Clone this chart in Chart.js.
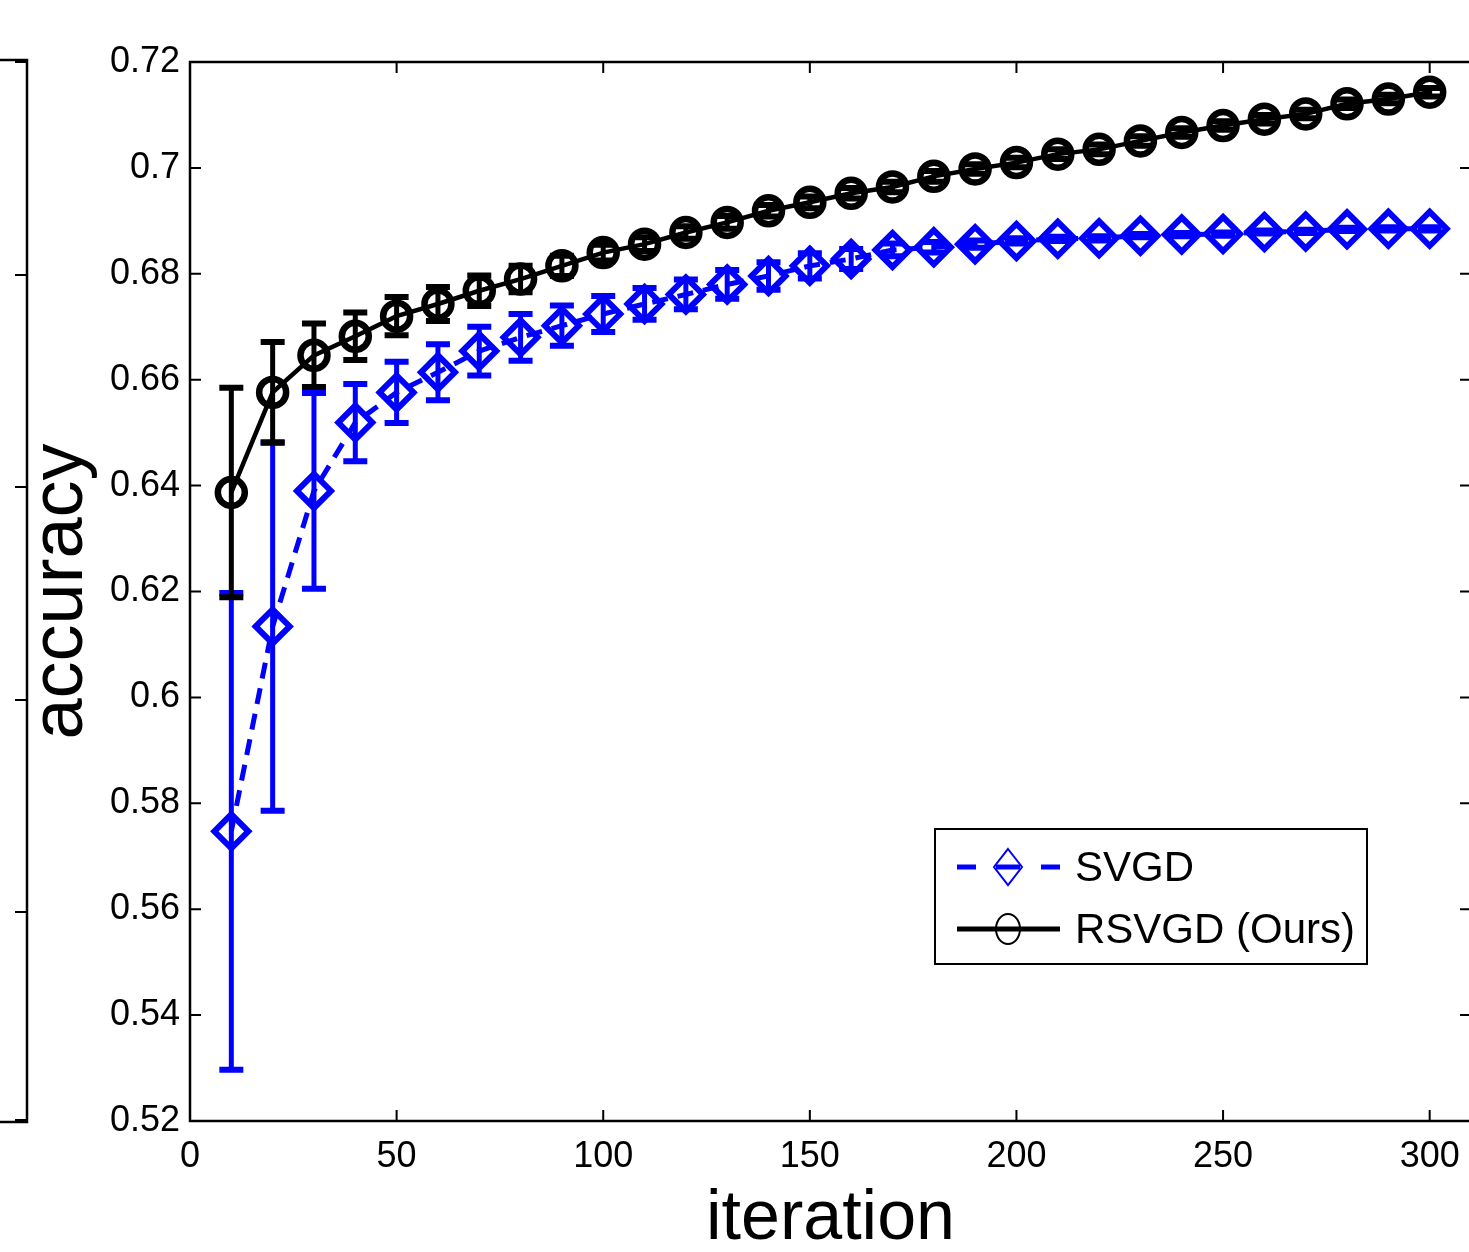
<!DOCTYPE html>
<html>
<head>
<meta charset="utf-8">
<script src="https://cdn.jsdelivr.net/npm/chart.js@4.4.1/dist/chart.umd.min.js"></script>
<style>
  html, body { margin: 0; padding: 0; background: #fff; overflow: hidden; }
  #wrap { width: 1494px; height: 1252px; }
</style>
</head>
<body>
<div id="wrap"><canvas id="acc-chart" width="1494" height="1252"></canvas></div>
<script>
// iteration number (x) and mean accuracy / error bar half-width per method
const iterations = [10, 20, 30, 40, 50, 60, 70, 80, 90, 100,
                    110, 120, 130, 140, 150, 160, 170, 180, 190, 200,
                    210, 220, 230, 240, 250, 260, 270, 280, 290, 300];

const svgdMean = [0.5747, 0.6134, 0.6390, 0.6519, 0.6576, 0.6614, 0.6654, 0.6680, 0.6702, 0.6724,
                  0.6743, 0.6761, 0.6780, 0.6796, 0.6815, 0.6828, 0.6845, 0.6850, 0.6856, 0.6862,
                  0.6866, 0.6867, 0.6872, 0.6874, 0.6875, 0.6879, 0.6880, 0.6884, 0.6885, 0.6885];
const svgdErr = [0.0450, 0.0348, 0.0185, 0.0073, 0.0058, 0.0053, 0.0046, 0.0044, 0.0038, 0.0034,
                 0.0030, 0.0028, 0.0027, 0.0026, 0.0024, 0.0019, 0.0012, 0.0010, 0.0007, 0.0005,
                 0.0004, 0.0004, 0.0003, 0.0003, 0.0003, 0.0003, 0.0003, 0.0003, 0.0003, 0.0003];

const rsvgdMean = [0.6387, 0.6576, 0.6646, 0.6682, 0.6720, 0.6743, 0.6768, 0.6790, 0.6815, 0.6840,
                   0.6856, 0.6878, 0.6897, 0.6919, 0.6935, 0.6952, 0.6964, 0.6984, 0.6998, 0.7010,
                   0.7026, 0.7035, 0.7051, 0.7067, 0.7080, 0.7092, 0.7102, 0.7121, 0.7130, 0.7143];
const rsvgdErr = [0.0198, 0.0095, 0.0060, 0.0045, 0.0036, 0.0032, 0.0029, 0.0025, 0.0019, 0.0015,
                  0.0013, 0.0012, 0.0012, 0.0011, 0.0011, 0.0010, 0.0010, 0.0010, 0.0009, 0.0009,
                  0.0009, 0.0009, 0.0009, 0.0008, 0.0008, 0.0008, 0.0008, 0.0008, 0.0008, 0.0008];

const xTicks = [0, 50, 100, 150, 200, 250, 300];
const yTicks = [0.52, 0.54, 0.56, 0.58, 0.6, 0.62, 0.64, 0.66, 0.68, 0.7, 0.72];
const seriesNames = ['SVGD', 'RSVGD (Ours)'];

const FONT = "'Liberation Sans', Arial, Helvetica, sans-serif";

// vertical error bars with caps, drawn right after each dataset
const errorBars = {
  id: 'errorBars',
  afterDatasetDraw(chart, args) {
    const ds = chart.data.datasets[args.index];
    if (!ds.errors) return;
    const xs = chart.scales.x, ys = chart.scales.y;
    const ctx = chart.ctx;
    ctx.save();
    ctx.strokeStyle = ds.borderColor;
    ds.data.forEach((p, i) => {
      const e = ds.errors[i];
      const px = xs.getPixelForValue(p.x);
      const top = ys.getPixelForValue(p.y + e);
      const bot = ys.getPixelForValue(p.y - e);
      ctx.lineWidth = 5;
      ctx.beginPath();
      ctx.moveTo(px, top);
      ctx.lineTo(px, bot);
      ctx.stroke();
      ctx.lineWidth = 6;
      ctx.beginPath();
      ctx.moveTo(px - 12, top); ctx.lineTo(px + 12, top);
      ctx.moveTo(px - 12, bot); ctx.lineTo(px + 12, bot);
      ctx.stroke();
    });
    ctx.restore();
  }
};

// matlab style box with ticks pointing inward, plus the edge of the neighbour panel
const boxAxes = {
  id: 'boxAxes',
  afterDraw(chart) {
    const {ctx, chartArea: a} = chart;
    const xs = chart.scales.x, ys = chart.scales.y;
    ctx.save();
    ctx.strokeStyle = '#000';
    ctx.lineWidth = 2.5;
    ctx.strokeRect(a.left, a.top, a.right - a.left, a.bottom - a.top);
    ctx.lineWidth = 2;
    ctx.beginPath();
    xTicks.forEach(v => {
      const px = xs.getPixelForValue(v);
      ctx.moveTo(px, a.bottom); ctx.lineTo(px, a.bottom - 11);
      ctx.moveTo(px, a.top); ctx.lineTo(px, a.top + 11);
    });
    yTicks.forEach(v => {
      const py = ys.getPixelForValue(v);
      ctx.moveTo(a.left, py); ctx.lineTo(a.left + 11, py);
      ctx.moveTo(a.right, py); ctx.lineTo(a.right - 11, py);
    });
    ctx.stroke();

    // right edge of the panel to the left
    ctx.lineWidth = 2.5;
    ctx.beginPath();
    ctx.moveTo(0, 60); ctx.lineTo(27, 60); ctx.lineTo(27, 1122); ctx.lineTo(0, 1122);
    ctx.stroke();
    ctx.lineWidth = 2;
    ctx.beginPath();
    [62, 275, 487, 700, 912, 1120].forEach(py => { ctx.moveTo(27, py); ctx.lineTo(15, py); });
    ctx.stroke();
    ctx.restore();
  }
};

// boxed legend in the lower right of the plot
const boxLegend = {
  id: 'boxLegend',
  afterDraw(chart) {
    const ctx = chart.ctx;
    const L = 935, T = 829, W = 432, H = 135;
    ctx.save();
    ctx.fillStyle = '#fff';
    ctx.fillRect(L, T, W, H);
    ctx.strokeStyle = '#000';
    ctx.lineWidth = 2;
    ctx.strokeRect(L, T, W, H);

    const rows = [867, 929];
    chart.data.datasets.forEach((ds, i) => {
      const cy = rows[i];
      ctx.strokeStyle = ds.borderColor;
      ctx.lineWidth = 5;
      ctx.beginPath();
      if (ds.borderDash) {
        ctx.moveTo(957, cy); ctx.lineTo(976, cy);
        ctx.moveTo(1041, cy); ctx.lineTo(1060, cy);
        ctx.moveTo(996, cy); ctx.lineTo(1020, cy);
      } else {
        ctx.moveTo(957, cy); ctx.lineTo(1060, cy);
      }
      ctx.stroke();
      ctx.lineWidth = 2;
      ctx.beginPath();
      if (ds.pointStyle === 'rectRot') {
        ctx.moveTo(1008, cy - 18); ctx.lineTo(1022, cy); ctx.lineTo(1008, cy + 18);
        ctx.lineTo(994, cy); ctx.closePath();
      } else {
        ctx.ellipse(1008, cy, 12, 15, 0, 0, Math.PI * 2);
      }
      ctx.stroke();
      ctx.fillStyle = '#000';
      ctx.font = '42px ' + FONT;
      ctx.textBaseline = 'middle';
      ctx.textAlign = 'left';
      ctx.fillText(ds.label, 1075, cy + 2);
    });
    ctx.restore();
  }
};

const toXY = (xs, ys) => xs.map((x, i) => ({x: x, y: ys[i]}));

new Chart(document.getElementById('acc-chart').getContext('2d'), {
  type: 'line',
  data: {
    datasets: [{
      label: seriesNames[0],
      data: toXY(iterations, svgdMean),
      errors: svgdErr,
      borderColor: '#0000ff',
      borderWidth: 5,
      borderDash: [16, 10],
      pointStyle: 'rectRot',
      pointRadius: 17,
      pointBorderWidth: 6,
      pointBackgroundColor: 'rgba(0,0,0,0)',
      pointBorderColor: '#0000ff',
      order: 1
    }, {
      label: seriesNames[1],
      data: toXY(iterations, rsvgdMean),
      errors: rsvgdErr,
      borderColor: '#000000',
      borderWidth: 4.5,
      pointStyle: 'circle',
      pointRadius: 13.5,
      pointBorderWidth: 6.5,
      pointBackgroundColor: 'rgba(0,0,0,0)',
      pointBorderColor: '#000000',
      order: 0
    }]
  },
  options: {
    responsive: false,
    animation: false,
    clip: false,
    layout: { padding: { left: 0, top: 62, right: 8, bottom: 0 } },
    plugins: {
      legend: { display: false },
      tooltip: { enabled: false }
    },
    scales: {
      x: {
        type: 'linear',
        min: 0,
        max: 310,
        afterBuildTicks: s => { s.ticks = xTicks.map(v => ({value: v})); },
        afterFit: s => { s.height = 131; s.paddingLeft = 0; s.paddingRight = 0; },
        grid: { display: false, drawTicks: false },
        border: { display: false },
        ticks: {
          padding: 14,
          color: '#000',
          font: { family: FONT, size: 36 },
          maxRotation: 0,
          callback: v => String(v)
        },
        title: {
          display: true,
          text: 'iteration',
          color: '#000',
          font: { family: FONT, size: 70, lineHeight: 0.92 },
          padding: 0
        }
      },
      y: {
        type: 'linear',
        min: 0.52,
        max: 0.72,
        afterBuildTicks: s => { s.ticks = yTicks.map(v => ({value: v})); },
        afterFit: s => { s.width = 190; s.paddingTop = 0; s.paddingBottom = 0; },
        grid: { display: false, drawTicks: false },
        border: { display: false },
        ticks: {
          padding: 10,
          color: '#000',
          font: { family: FONT, size: 36 },
          callback: v => String(Number(v.toFixed(2)))
        },
        title: {
          display: true,
          text: 'accuracy',
          color: '#000',
          font: { family: FONT, size: 74, lineHeight: 1.2 },
          padding: { top: 17, bottom: 0 }
        }
      }
    }
  },
  plugins: [errorBars, boxAxes, boxLegend]
});
</script>
</body>
</html>
